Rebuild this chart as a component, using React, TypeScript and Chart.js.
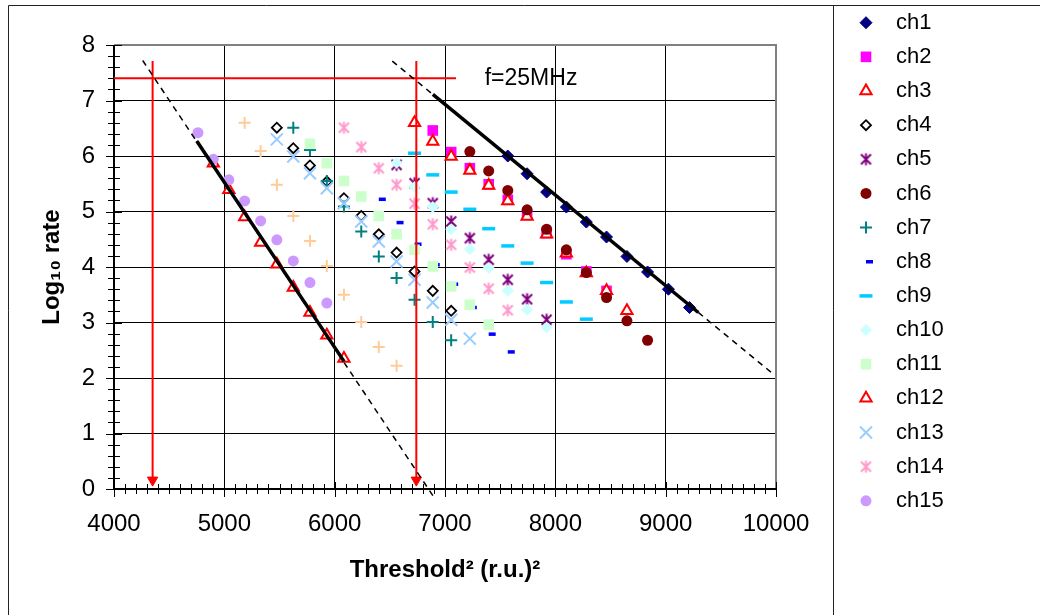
import React, { useEffect, useRef } from 'react';
import { Chart, registerables } from 'chart.js';
import { drawPoint } from 'chart.js/helpers';

Chart.register(...registerables);

const FONT = '"Liberation Sans", Arial, Helvetica, sans-serif';

// ---- axis ticks ----
const xTickValues = [4000, 5000, 6000, 7000, 8000, 9000, 10000];
const xTickLabels = ['4000', '5000', '6000', '7000', '8000', '9000', '10000'];
const yTickValues = [0, 1, 2, 3, 4, 5, 6, 7, 8];
const yTickLabels = ['0', '1', '2', '3', '4', '5', '6', '7', '8'];

const xTitle = 'Threshold\u00B2 (r.u.)\u00B2';
const yTitle = 'Log\u2081\u2080 rate';

// ---- series (x = threshold^2, y = log10 rate) ----
const ch1X = [7569, 7744, 7921, 8100, 8281, 8464, 8649, 8836, 9025, 9216];
const ch1Y = [6.0, 5.68, 5.35, 5.08, 4.81, 4.54, 4.19, 3.91, 3.6, 3.27];
const ch2X = [6889, 7056, 7225, 7396, 7569, 7744, 7921, 8100, 8281, 8464];
const ch2Y = [6.46, 6.07, 5.78, 5.49, 5.21, 4.94, 4.61, 4.23, 3.92, 3.57];
const ch3X = [6724, 6889, 7056, 7225, 7396, 7569, 7744, 7921, 8100, 8281, 8464, 8649];
const ch3Y = [6.6, 6.26, 5.99, 5.74, 5.47, 5.19, 4.91, 4.59, 4.25, 3.89, 3.57, 3.21];
const ch4X = [5476, 5625, 5776, 5929, 6084, 6241, 6400, 6561, 6724, 6889, 7056];
const ch4Y = [6.51, 6.14, 5.83, 5.54, 5.24, 4.92, 4.59, 4.26, 3.92, 3.57, 3.21];
const ch5X = [6561, 6724, 6889, 7056, 7225, 7396, 7569, 7744, 7921];
const ch5Y = [5.84, 5.51, 5.15, 4.82, 4.52, 4.13, 3.77, 3.42, 3.05];
const ch6X = [7225, 7396, 7569, 7744, 7921, 8100, 8281, 8464, 8649, 8836];
const ch6Y = [6.08, 5.73, 5.38, 5.03, 4.68, 4.31, 3.9, 3.45, 3.03, 2.68];
const ch7X = [5625, 5776, 5929, 6084, 6241, 6400, 6561, 6724, 6889, 7056];
const ch7Y = [6.51, 6.11, 5.55, 5.09, 4.64, 4.19, 3.8, 3.41, 3.01, 2.68];
const ch8X = [6400, 6561, 6724, 6889, 7056, 7225, 7396, 7569];
const ch8Y = [5.22, 4.8, 4.41, 4.04, 3.69, 3.27, 2.79, 2.47];
const ch9X = [6724, 6889, 7056, 7225, 7396, 7569, 7744, 7921, 8100, 8281];
const ch9Y = [6.05, 5.66, 5.35, 5.04, 4.69, 4.38, 4.07, 3.72, 3.37, 3.06];
const ch10X = [6561, 6724, 6889, 7056, 7225, 7396, 7569, 7744, 7921];
const ch10Y = [5.88, 5.44, 5.08, 4.68, 4.32, 3.98, 3.57, 3.23, 2.91];
const ch11X = [5776, 5929, 6084, 6241, 6400, 6561, 6724, 6889, 7056, 7225, 7396];
const ch11Y = [6.22, 5.87, 5.55, 5.27, 4.92, 4.59, 4.31, 4.01, 3.65, 3.32, 2.96];
const ch12X = [4900, 5041, 5184, 5329, 5476, 5625, 5776, 5929, 6084];
const ch12Y = [5.87, 5.39, 4.9, 4.44, 4.05, 3.63, 3.18, 2.77, 2.35];
const ch13X = [5476, 5625, 5776, 5929, 6084, 6241, 6400, 6561, 6724, 6889, 7056, 7225];
const ch13Y = [6.3, 5.99, 5.69, 5.42, 5.15, 4.82, 4.46, 4.1, 3.77, 3.36, 3.05, 2.71];
const ch14X = [6084, 6241, 6400, 6561, 6724, 6889, 7056, 7225, 7396, 7569];
const ch14Y = [6.51, 6.16, 5.78, 5.48, 5.14, 4.77, 4.4, 3.99, 3.61, 3.22];
const ch15X = [4761, 4900, 5041, 5184, 5329, 5476, 5625, 5776, 5929];
const ch15Y = [6.42, 5.94, 5.57, 5.19, 4.83, 4.49, 4.11, 3.72, 3.35];
const ch16X = [5184, 5329, 5476, 5625, 5776, 5929, 6084, 6241, 6400, 6561];
const ch16Y = [6.6, 6.09, 5.48, 4.92, 4.47, 4.02, 3.5, 3.01, 2.56, 2.22];

// ---- fit lines and guide lines ----
const fitLeftSolidX = [4750, 6085];
const fitLeftSolidY = [6.27, 2.3];
const fitLeftDashX = [4260, 6900];
const fitLeftDashY = [7.72, -0.15];
const fitRightSolidX = [6890, 9296];
const fitRightSolidY = [7.11, 3.18];
const fitRightDashX = [6522, 9970];
const fitRightDashY = [7.71, 2.08];
const rateLineX = [4000, 7100];
const rateLineY = [7.4, 7.4];
const arrow1X = [4350, 4350];
const arrow1Y = [7.71, 0.16];
const arrow2X = [6740, 6740];
const arrow2Y = [7.71, 0.16];

const annotationText = 'f=25MHz';
const annotationX = 7360;
const annotationY = 7.4;

const pts = (xs: number[], ys: number[]) => xs.map((x, i) => ({ x, y: ys[i] }));

function makeAsterisk(color: string) {
  const c = document.createElement('canvas');
  const size = 15;
  c.width = size;
  c.height = size;
  const g = c.getContext('2d')!;
  g.strokeStyle = color;
  g.lineWidth = 2;
  const m = size / 2;
  const a = 6;
  const d = 5;
  g.beginPath();
  g.moveTo(m, m - a);
  g.lineTo(m, m + a);
  g.moveTo(m - d, m - d);
  g.lineTo(m + d, m + d);
  g.moveTo(m + d, m - d);
  g.lineTo(m - d, m + d);
  g.stroke();
  return c;
}

export default function App() {
  const ref = useRef<HTMLCanvasElement>(null);

  useEffect(() => {
    const canvas = ref.current!;
    const star5 = makeAsterisk('#800080');
    const star14 = makeAsterisk('#FF99CC');

    const series: any[] = [
      { label: 'ch1', xs: ch1X, ys: ch1Y, style: 'rectRot', r: 6, bg: '#000080', bc: '#000080', bw: 1 },
      { label: 'ch2', xs: ch2X, ys: ch2Y, style: 'rect', r: 7.5, bg: '#FF00FF', bc: '#FF00FF', bw: 0 },
      { label: 'ch3', xs: ch3X, ys: ch3Y, style: 'triangle', r: 6.5, bg: '#FFFFFF', bc: '#FF0000', bw: 2 },
      { label: 'ch4', xs: ch4X, ys: ch4Y, style: 'rectRot', r: 5, bg: '#FFFFFF', bc: '#000000', bw: 1.8 },
      { label: 'ch5', xs: ch5X, ys: ch5Y, style: star5, r: 6, bg: '#800080', bc: '#800080', bw: 2 },
      { label: 'ch6', xs: ch6X, ys: ch6Y, style: 'circle', r: 5.5, bg: '#800000', bc: '#800000', bw: 0 },
      { label: 'ch7', xs: ch7X, ys: ch7Y, style: 'cross', r: 6, bg: '#008080', bc: '#008080', bw: 2 },
      { label: 'ch8', xs: ch8X, ys: ch8Y, style: 'dash', r: 7, bg: '#0000FF', bc: '#0000FF', bw: 3.5 },
      { label: 'ch9', xs: ch9X, ys: ch9Y, style: 'line', r: 6.5, bg: '#00CCFF', bc: '#00CCFF', bw: 3.5 },
      { label: 'ch10', xs: ch10X, ys: ch10Y, style: 'rectRot', r: 6, bg: '#CCFFFF', bc: '#CCFFFF', bw: 0 },
      { label: 'ch11', xs: ch11X, ys: ch11Y, style: 'rect', r: 7.5, bg: '#CCFFCC', bc: '#CCFFCC', bw: 0 },
      { label: 'ch12', xs: ch12X, ys: ch12Y, style: 'triangle', r: 6.5, bg: '#FFFFFF', bc: '#FF0000', bw: 2 },
      { label: 'ch13', xs: ch13X, ys: ch13Y, style: 'crossRot', r: 8.5, bg: '#99CCFF', bc: '#99CCFF', bw: 2 },
      { label: 'ch14', xs: ch14X, ys: ch14Y, style: star14, r: 6, bg: '#FF99CC', bc: '#FF99CC', bw: 2 },
      { label: 'ch15', xs: ch15X, ys: ch15Y, style: 'circle', r: 5.5, bg: '#CC99FF', bc: '#CC99FF', bw: 0 },
      { label: 'ch16', xs: ch16X, ys: ch16Y, style: 'cross', r: 6, bg: '#FFCC99', bc: '#FFCC99', bw: 2, noLegend: true },
    ];

    const scatterSets = series.map((s, i) => ({
      label: s.label,
      data: pts(s.xs, s.ys),
      showLine: false,
      pointStyle: s.style,
      pointRadius: s.r,
      pointBackgroundColor: s.bg,
      pointBorderColor: s.bc,
      pointBorderWidth: s.bw,
      pointHoverRadius: s.r,
      order: -i,
    }));

    const lineSet = (xs: number[], ys: number[], color: string, width: number, dash: number[], extra: any = {}) => ({
      data: pts(xs, ys),
      showLine: true,
      borderColor: color,
      borderWidth: width,
      borderDash: dash,
      pointRadius: 0,
      order: -100,
      ...extra,
    });

    const arrowExtra = {
      pointRadius: [0, 6],
      pointStyle: 'triangle',
      pointRotation: 180,
      pointBackgroundColor: '#FF0000',
      pointBorderColor: '#FF0000',
      pointBorderWidth: 1,
      clip: false,
    };

    const lineSets = [
      lineSet(fitLeftDashX, fitLeftDashY, '#000000', 1.5, [6, 5], { clip: false }),
      lineSet(fitRightDashX, fitRightDashY, '#000000', 1.5, [6, 5]),
      lineSet(fitLeftSolidX, fitLeftSolidY, '#000000', 3.5, []),
      lineSet(fitRightSolidX, fitRightSolidY, '#000000', 3.5, []),
      lineSet(rateLineX, rateLineY, '#FF0000', 2, []),
      lineSet(arrow1X, arrow1Y, '#FF0000', 2, [], arrowExtra),
      lineSet(arrow2X, arrow2Y, '#FF0000', 2, [], arrowExtra),
    ];

    const decor = {
      id: 'decor',
      beforeDatasetsDraw(chart: any) {
        const { ctx, chartArea: a } = chart;
        const xs = chart.scales.x;
        const ys = chart.scales.y;
        ctx.save();
        // gray plot border (top, right)
        ctx.strokeStyle = '#808080';
        ctx.lineWidth = 2;
        ctx.beginPath();
        ctx.moveTo(a.left, a.top);
        ctx.lineTo(a.right, a.top);
        ctx.lineTo(a.right, a.bottom);
        ctx.stroke();
        // axes
        ctx.strokeStyle = '#000000';
        ctx.lineWidth = 2;
        ctx.beginPath();
        ctx.moveTo(a.left, a.top);
        ctx.lineTo(a.left, a.bottom);
        ctx.lineTo(a.right, a.bottom);
        ctx.stroke();
        // crossing tick marks
        ctx.lineWidth = 1;
        ctx.beginPath();
        for (let k = 0; k <= 60; k++) {
          const v = xTickValues[0] + k * 100;
          const px = Math.round(xs.getPixelForValue(v)) + 0.5;
          const major = k % 10 === 0;
          ctx.moveTo(px, a.bottom - (major ? 7 : 5));
          ctx.lineTo(px, a.bottom + (major ? 8 : 5));
        }
        for (let k = 0; k <= 40; k++) {
          const v = k * 0.2;
          const py = Math.round(ys.getPixelForValue(v)) + 0.5;
          const major = k % 5 === 0;
          ctx.moveTo(a.left - (major ? 8 : 6), py);
          ctx.lineTo(a.left + (major ? 8 : 6), py);
        }
        ctx.stroke();
        ctx.restore();
      },
      afterDraw(chart: any) {
        const { ctx } = chart;
        const xs = chart.scales.x;
        const ys = chart.scales.y;
        ctx.save();
        // outer frame and legend divider
        ctx.strokeStyle = '#222222';
        ctx.lineWidth = 1;
        ctx.beginPath();
        ctx.moveTo(8.5, 615);
        ctx.lineTo(8.5, 5.5);
        ctx.lineTo(1040, 5.5);
        ctx.moveTo(833.5, 5.5);
        ctx.lineTo(833.5, 615);
        ctx.stroke();
        // annotation
        ctx.fillStyle = '#000000';
        ctx.font = `23px ${FONT}`;
        ctx.textAlign = 'left';
        ctx.textBaseline = 'middle';
        ctx.fillText(annotationText, xs.getPixelForValue(annotationX), ys.getPixelForValue(annotationY));
        // legend
        const legendItems = series.filter((s) => !s.noLegend);
        legendItems.forEach((s, i) => {
          const y = 22.7 + i * 34.15;
          ctx.fillStyle = s.bg;
          ctx.strokeStyle = s.bc;
          ctx.lineWidth = s.bw;
          drawPoint(ctx, { pointStyle: s.style, radius: s.r, rotation: 0, borderWidth: s.bw } as any, 866, y);
          ctx.fillStyle = '#000000';
          ctx.font = `22px ${FONT}`;
          ctx.textAlign = 'left';
          ctx.textBaseline = 'middle';
          ctx.fillText(s.label, 896, y);
        });
        ctx.restore();
      },
    };

    const chart = new Chart(canvas, {
      type: 'scatter',
      data: { datasets: [...scatterSets, ...lineSets] as any },
      options: {
        responsive: false,
        animation: false,
        events: [],
        layout: { padding: { left: 0, top: 45, right: 264, bottom: 0 } },
        plugins: { legend: { display: false }, tooltip: { enabled: false } },
        scales: {
          x: {
            type: 'linear',
            min: xTickValues[0],
            max: xTickValues[xTickValues.length - 1],
            border: { display: false },
            grid: { color: '#000000', lineWidth: 1, drawTicks: false },
            ticks: {
              stepSize: 1000,
              padding: 21,
              color: '#000000',
              maxRotation: 0,
              autoSkip: false,
              font: { family: FONT, size: 24 },
              callback: (v: any) => {
                const i = xTickValues.indexOf(Number(v));
                return i >= 0 ? xTickLabels[i] : '';
              },
            },
            title: {
              display: true,
              text: xTitle,
              color: '#000000',
              font: { family: FONT, size: 24, weight: 'bold' },
              padding: { top: 0, bottom: 30 },
            },
            afterFit: (s: any) => {
              s.height = 126;
              s.paddingLeft = 0;
              s.paddingRight = 0;
            },
          },
          y: {
            type: 'linear',
            min: yTickValues[0],
            max: yTickValues[yTickValues.length - 1],
            border: { display: false },
            grid: { color: '#000000', lineWidth: 1, drawTicks: false },
            ticks: {
              stepSize: 1,
              padding: 19,
              color: '#000000',
              font: { family: FONT, size: 24 },
              callback: (v: any) => {
                const i = yTickValues.indexOf(Number(v));
                return i >= 0 ? yTickLabels[i] : '';
              },
            },
            title: {
              display: true,
              text: yTitle,
              color: '#000000',
              font: { family: FONT, size: 24, weight: 'bold' },
              padding: { top: 38, bottom: 0 },
            },
            afterFit: (s: any) => {
              s.width = 114;
              s.paddingTop = 0;
              s.paddingBottom = 0;
            },
          },
        },
      } as any,
      plugins: [decor],
    });

    return () => chart.destroy();
  }, []);

  return (
    <div style={{ position: 'absolute', left: 0, top: 0, width: 1040, height: 615, background: '#ffffff' }}>
      <canvas ref={ref} width={1040} height={615} style={{ display: 'block', width: 1040, height: 615 }} />
    </div>
  );
}
